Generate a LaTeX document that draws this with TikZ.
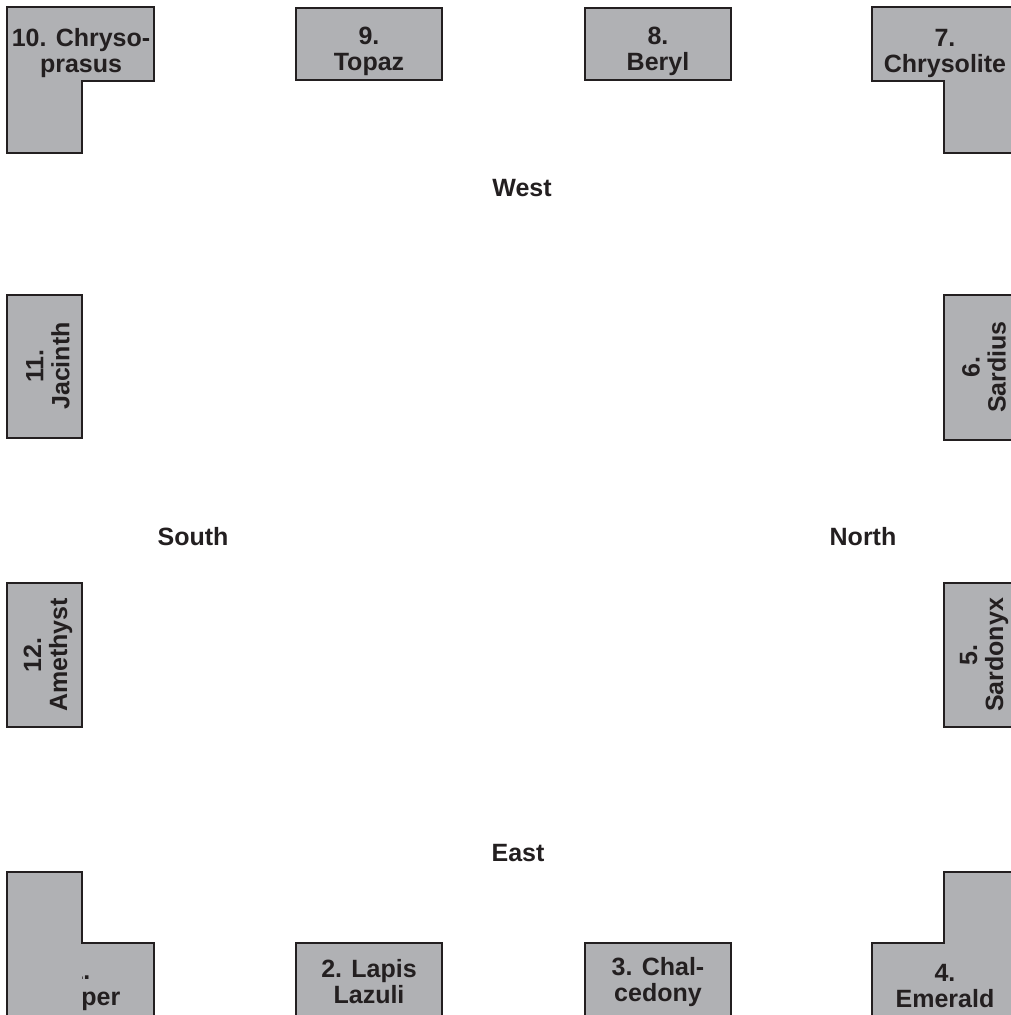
\documentclass[tikz,border=0pt]{standalone}
\usepackage{fontspec}
\setmainfont{Liberation Sans}
\definecolor{stonegray}{RGB}{176,177,180}
\definecolor{inkgray}{RGB}{35,31,32}
\tikzset{
    stone/.style={fill=stonegray, draw=inkgray, line width=2pt}
}
\begin{document}
\begin{tikzpicture}[x=1pt,y=-1pt]
    \useasboundingbox (0,0) rectangle (1011,1015);
    \clip (0,0) rectangle (1011,1015);
    \begin{scope}
        \tikzstyle{every node}=[text=inkgray, align=center, inner sep=0pt, font=\fontsize{25}{26}\selectfont\bfseries]
        % corner stones
        \draw[stone] (7,7) -- (154,7) -- (154,81) -- (82,81) -- (82,153) -- (7,153) -- cycle;
        \node (10) at (81,53) {10. Chryso-\\prasus};
        \draw[stone] (872,7) -- (1019,7) -- (1019,153) -- (944,153) -- (944,81) -- (872,81) -- cycle;
        \node (7) at (945,53) {7.\\Chrysolite};
        \draw[stone] (872,943) -- (944,943) -- (944,872) -- (1019,872) -- (1019,1020) -- (872,1020) -- cycle;
        \node (4) at (945,986) {4.\\Emerald};
        \fill[stonegray] (7,872) -- (82,872) -- (82,943) -- (154,943) -- (154,1020) -- (7,1020) -- cycle;
        \node (1) at (80,986) {1.\\Jasper};
        \fill[stonegray] (7,872) rectangle (82,1020);
        \draw[inkgray, line width=2pt] (7,872) -- (82,872) -- (82,943) -- (154,943) -- (154,1020) -- (7,1020) -- cycle;
        % top and bottom stones
        \draw[stone] (296,8) rectangle (442,80);
        \node (9) at (369,51) {9.\\Topaz};
        \draw[stone] (585,8) rectangle (731,80);
        \node (8) at (658,51) {8.\\Beryl};
        \draw[stone] (296,943) rectangle (442,1016);
        \node (2) at (369,982) {2. Lapis\\Lazuli};
        \draw[stone] (585,943) rectangle (731,1016);
        \node (3) at (658,982) {3. Chal-\\cedony};
        % side stones
        \draw[stone] (7,295) rectangle (82,438);
        \node[rotate=90] (11) at (48,366) {11.\\Jacinth};
        \draw[stone] (7,583) rectangle (82,727);
        \node[rotate=90] (12) at (48,655) {12.\\Amethyst};
        \draw[stone] (944,295) rectangle (1019,440);
        \node[rotate=90] (6) at (984,367) {6.\\Sardius};
        \draw[stone] (944,583) rectangle (1019,727);
        \node[rotate=90] (5) at (984,655) {5.\\Sardonyx};
        % compass points
        \node (west) at (522,188) {West};
        \node (south) at (193,537) {South};
        \node (north) at (863,537) {North};
        \node (east) at (518,853) {East};
    \end{scope}
\end{tikzpicture}
\end{document}
